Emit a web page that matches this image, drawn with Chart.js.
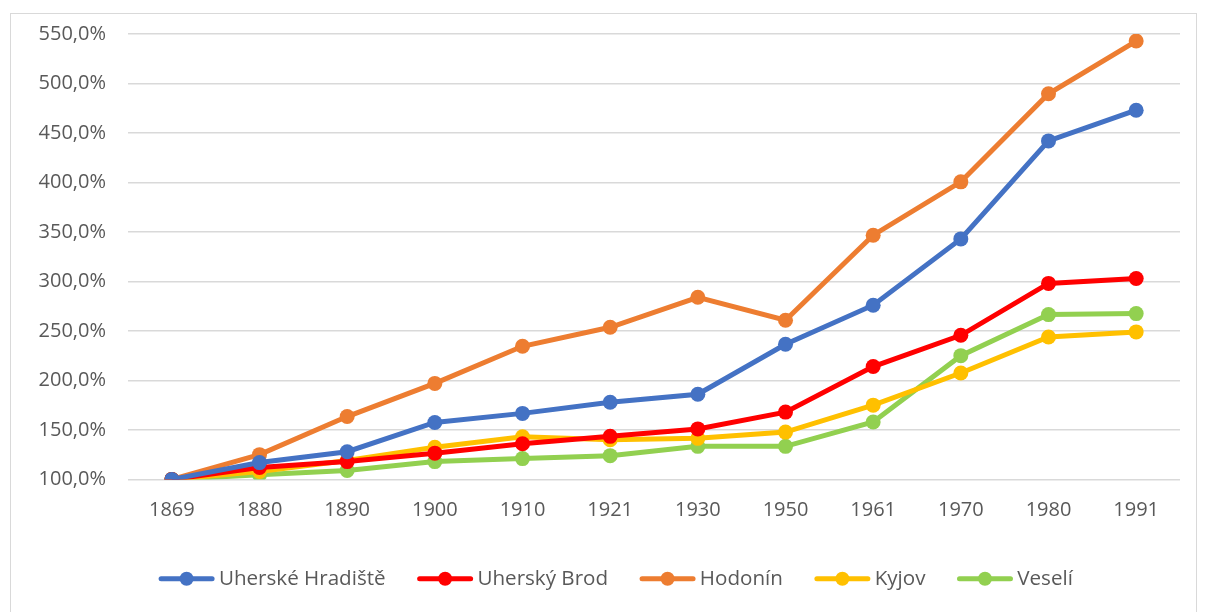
<!DOCTYPE html>
<html>
<head>
<meta charset="utf-8">
<script src="https://cdn.jsdelivr.net/npm/chart.js@4.4.1/dist/chart.umd.min.js"></script>
<style>
  html, body { margin: 0; padding: 0; background: #fff; }
  #wrap { position: relative; width: 1207px; height: 612px; }
  #frame { position: absolute; left: 10px; top: 13px; width: 1187px; height: 605px; border: 1px solid #d9d9d9; box-sizing: border-box; pointer-events: none; }
  canvas { position: absolute; left: 0; top: 0; }
</style>
</head>
<body>
<div id="wrap">
  <canvas id="c" width="1207" height="612"></canvas>
  <div id="frame"></div>
</div>
<script>
const years = ["1869","1880","1890","1900","1910","1921","1930","1950","1961","1970","1980","1991"];
const uherskeHradiste = [100, 117, 128, 157.5, 166.7, 178, 186, 236.5, 276, 343, 442, 473];
const uherskyBrod     = [100, 112, 118, 126.5, 136, 143.5, 151, 168, 214, 245.6, 298, 303];
const hodonin         = [100, 125, 163.5, 197, 234.5, 253.7, 284, 260.8, 346.7, 400.6, 489.6, 542.9];
const kyjov           = [100, 108, 119, 132.5, 143, 140, 141.5, 147.8, 175, 207.5, 243.9, 249];
const veseli          = [100, 104.7, 109, 118, 121, 124, 133.4, 133.4, 158, 225, 266.5, 267.5];
const seriesNames  = ["Uherské Hradiště", "Uherský Brod", "Hodonín", "Kyjov", "Veselí"];
const seriesColors = ["#4472C4", "#FF0000", "#ED7D31", "#FFC000", "#92D050"];
const seriesData   = [uherskeHradiste, uherskyBrod, hodonin, kyjov, veseli];

const FONT = "'Open Sans', 'Liberation Sans', sans-serif";
const LEGEND_SHIFT = 26;

const legendMarkers = {
  id: 'legendMarkers',
  afterLayout(chart) {
    const lg = chart.legend;
    if (!lg) return;
    lg.left += LEGEND_SHIFT;
    lg.right += LEGEND_SHIFT;
    (lg.legendHitBoxes || []).forEach(h => { h.left += LEGEND_SHIFT; });
  },
  afterDraw(chart) {
    const lg = chart.legend;
    if (!lg || !lg.legendHitBoxes) return;
    const ctx = chart.ctx;
    lg.legendHitBoxes.forEach((hb, i) => {
      const color = seriesColors[i];
      const y = hb.top + hb.height / 2;
      const x0 = hb.left, x1 = hb.left + 55;
      ctx.save();
      ctx.strokeStyle = color;
      ctx.lineWidth = 5;
      ctx.lineCap = 'round';
      ctx.beginPath(); ctx.moveTo(x0 + 2, y); ctx.lineTo(x1 - 2, y); ctx.stroke();
      ctx.fillStyle = color;
      ctx.beginPath(); ctx.arc((x0 + x1) / 2, y, 7, 0, Math.PI * 2); ctx.fill();
      ctx.restore();
    });
  }
};

new Chart(document.getElementById('c'), {
  type: 'line',
  data: {
    labels: years,
    datasets: seriesData.map((d, i) => ({
      label: seriesNames[i],
      data: d,
      borderColor: seriesColors[i],
      backgroundColor: seriesColors[i],
      borderWidth: 5,
      pointRadius: 7.5,
      pointHoverRadius: 7.5,
      pointBorderWidth: 0,
      tension: 0,
      fill: false
    }))
  },
  options: {
    responsive: false,
    animation: false,
    layout: { padding: { top: 33, right: 27, bottom: 13, left: 0 } },
    plugins: {
      tooltip: { enabled: false },
      legend: {
        position: 'bottom',
        labels: {
          boxWidth: 49.5,
          boxHeight: 14,
          padding: 32,
          color: '#595959',
          font: { family: FONT, size: 20.6 },
          generateLabels(chart) {
            return chart.data.datasets.map((ds, i) => ({
              text: ds.label,
              fillStyle: 'rgba(0,0,0,0)',
              strokeStyle: 'rgba(0,0,0,0)',
              lineWidth: 0,
              hidden: false,
              datasetIndex: i,
              fontColor: '#595959'
            }));
          }
        }
      }
    },
    scales: {
      x: {
        offset: true,
        grid: { display: false, drawTicks: false },
        border: { display: false },
        ticks: { color: '#595959', font: { family: FONT, size: 20 }, padding: 19, maxRotation: 0 },
        afterFit(scale) { scale.height = 57; }
      },
      y: {
        min: 100,
        max: 550,
        grid: { color: '#d9d9d9', lineWidth: 1.5, drawTicks: false },
        border: { display: false },
        ticks: {
          stepSize: 50,
          color: '#595959',
          font: { family: FONT, size: 20 },
          padding: 22,
          callback: v => v.toFixed(1).replace('.', ',') + '%'
        },
        afterFit(scale) { scale.width = 128; }
      }
    }
  },
  plugins: [legendMarkers]
});
</script>
</body>
</html>
